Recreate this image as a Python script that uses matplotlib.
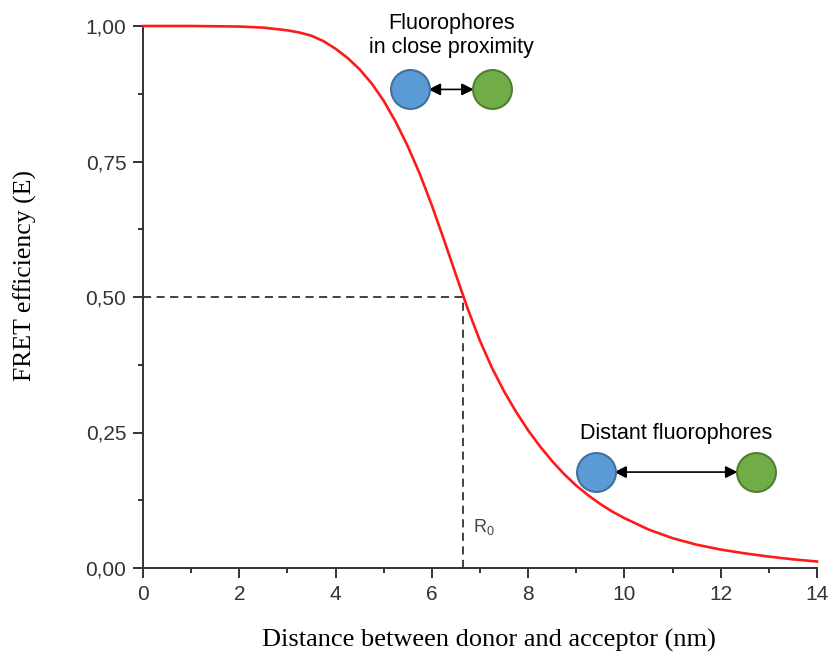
import numpy as np
import matplotlib
matplotlib.use('Agg')
import matplotlib.pyplot as plt

# values
distance = [0, 1, 2, 2.5, 3, 3.25, 3.5, 3.75, 4, 4.25, 4.5, 4.75, 5, 5.25,
            5.5, 5.75, 6, 6.25, 6.5, 6.75, 7, 7.25, 7.5, 7.75, 8, 8.25, 8.5,
            8.75, 9, 9.25, 9.5, 9.75, 10, 10.5, 11, 11.5, 12, 12.5, 13, 13.5,
            14]
efficiency = [1.0, 1.0, 0.999, 0.997, 0.992, 0.988, 0.982, 0.972, 0.958,
              0.941, 0.92, 0.894, 0.862, 0.823, 0.778, 0.727, 0.669, 0.606,
              0.541, 0.477, 0.419, 0.369, 0.326, 0.288, 0.254, 0.224, 0.197,
              0.173, 0.152, 0.134, 0.118, 0.104, 0.092, 0.071, 0.055, 0.043,
              0.034, 0.027, 0.021, 0.016, 0.012]
r0 = 6.65
x_ticks = [0, 2, 4, 6, 8, 10, 12, 14]
y_ticks = [0.0, 0.25, 0.5, 0.75, 1.0]
y_tick_labels = ['0,00', '0,25', '0,50', '0,75', '1,00']

# fluorophore pairs (donor x, acceptor x, y)
close_pair = (5.55, 7.25, 0.883)
distant_pair = (9.41, 12.73, 0.177)

blue, blue_edge = '#5B9BD5', '#41719C'
green, green_edge = '#70AD47', '#507E32'
axis_grey = '#333333'

fig = plt.figure(figsize=(8.32, 6.56), dpi=100)
ax = fig.add_axes([143/832, 88/656, 674/832, 542/656])

ax.plot(distance, efficiency, color='#ff1a1a', lw=1.9, clip_on=False, zorder=3,
        solid_joinstyle='round')
ax.plot([0, r0], [0.5, 0.5], color='#333333', lw=1.3, ls=(0, (4.5, 3)))
ax.plot([r0, r0], [0, 0.5], color='#333333', lw=1.3, ls=(0, (4.5, 3)))
ax.text(r0 + 0.2, 0.066, r'R$_\mathregular{0}$', color='#444444', fontsize=13,
        family='Liberation Sans')

ax.set_xlim(0, 14)
ax.set_ylim(0, 1)
for s in ['top', 'right']:
    ax.spines[s].set_visible(False)
for s in ['left', 'bottom']:
    ax.spines[s].set_color(axis_grey)
    ax.spines[s].set_linewidth(1.4)

ax.set_xticks(x_ticks)
ax.set_xticks(np.arange(1, 14, 2), minor=True)
ax.set_yticks(y_ticks)
ax.set_yticklabels(y_tick_labels)
ax.set_yticks([0.125, 0.375, 0.625, 0.875], minor=True)
ax.tick_params(which='major', length=7, width=1.4, color=axis_grey,
               labelsize=15, labelcolor=axis_grey)
ax.tick_params(axis='y', which='major', pad=5)
ax.tick_params(axis='x', which='major', pad=5)
ax.tick_params(which='minor', length=3.5, width=1.4, color=axis_grey)
for lab in ax.get_xticklabels() + ax.get_yticklabels():
    lab.set_family('Liberation Sans')

fig.text(25/832, 1 - 276/656, 'FRET efficiency (E)', rotation=90,
         ha='center', va='center', fontsize=18.5, family='Liberation Serif')
fig.text(489/832, 1 - 640/656, 'Distance between donor and acceptor (nm)',
         ha='center', va='center', fontsize=19, family='Liberation Serif')


def pair(ax, x1, x2, y, gap):
    ax.annotate('', xy=(x1 + gap, y), xytext=(x2 - gap, y),
                arrowprops=dict(arrowstyle='<|-|>', color='black', lw=1.2,
                                mutation_scale=18, shrinkA=0, shrinkB=0))
    ax.plot([x1], [y], 'o', ms=28, mfc=blue, mec=blue_edge, mew=1.5,
            clip_on=False, zorder=5)
    ax.plot([x2], [y], 'o', ms=28, mfc=green, mec=green_edge, mew=1.5,
            clip_on=False, zorder=5)


pair(ax, close_pair[0], close_pair[1], close_pair[2], 0.38)
pair(ax, distant_pair[0], distant_pair[1], distant_pair[2], 0.38)

ax.text((close_pair[0] + close_pair[1]) / 2, 0.983,
        'Fluorophores\nin close proximity', ha='center', va='center',
        fontsize=15.5, family='Liberation Sans', linespacing=1.2)
ax.text((distant_pair[0] + distant_pair[1]) / 2, 0.249, 'Distant fluorophores',
        ha='center', va='center', fontsize=15.5, family='Liberation Sans')

fig.savefig('out.png', dpi=100)
